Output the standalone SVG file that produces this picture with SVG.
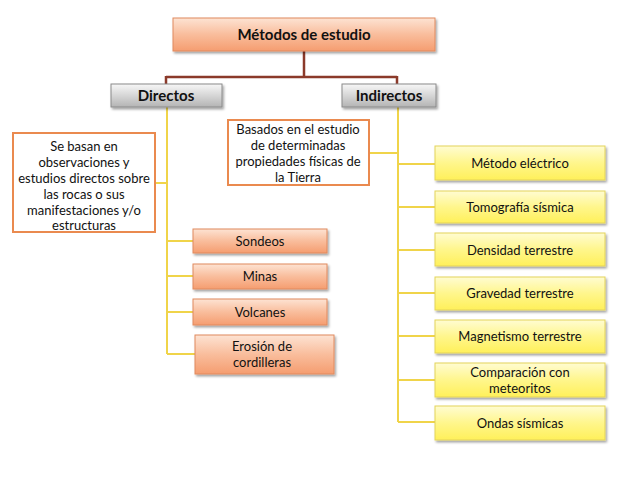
<svg xmlns="http://www.w3.org/2000/svg" width="638" height="479" viewBox="0 0 638 479">
<defs>
<linearGradient id="go" x1="0" y1="0" x2="0" y2="1"><stop offset="0" stop-color="#fde3d3"/><stop offset="0.5" stop-color="#f9bd9c"/><stop offset="1" stop-color="#f59d70"/></linearGradient>
<linearGradient id="gy" x1="0" y1="0" x2="0" y2="1"><stop offset="0" stop-color="#fffcd2"/><stop offset="0.5" stop-color="#fff68c"/><stop offset="1" stop-color="#fff05a"/></linearGradient>
<linearGradient id="gg" x1="0" y1="0" x2="0" y2="1"><stop offset="0" stop-color="#f7f7f7"/><stop offset="0.5" stop-color="#d6d6d6"/><stop offset="1" stop-color="#b4b4b4"/></linearGradient>
<filter id="sh" x="-10%" y="-20%" width="130%" height="160%"><feDropShadow dx="1.5" dy="2" stdDeviation="1.2" flood-color="#000" flood-opacity="0.35"/></filter>
</defs>
<style>
text{font-family:Lato,"Open Sans","Liberation Sans",sans-serif;font-size:13px;fill:#111;text-anchor:middle}
.b{font-weight:bold;font-size:15px}
.o{fill:url(#go);stroke:#e08a5e;stroke-width:1;filter:url(#sh)}
.y{fill:url(#gy);stroke:#e3d35a;stroke-width:1;filter:url(#sh)}
.g{fill:url(#gg);stroke:#8a8a8a;stroke-width:1;filter:url(#sh)}
.w{fill:#fff;stroke:#ea8a4f;stroke-width:2}
.cr{stroke:#8b3a2a;stroke-width:2.5;fill:none}
.cy{stroke:#f0d44a;stroke-width:2;fill:none}
</style>
<rect width="638" height="479" fill="#fff"/>
<g id="connectors">
<path class="cr" d="M304 50V77M166 77H397M166 76V84M397 76V84"/>
<path class="cy" d="M167 107V354M155 183H167M167 241H193M167 276H193M167 312H193M167 354H195"/>
<path class="cy" d="M398 107V422M369 153H398M398 164H435M398 207H435M398 250H435M398 293H435M398 336H435M398 380H435M398 422H435"/>
</g>
<g id="n-metodos"><rect class="o" x="173" y="18" width="262" height="33"/><text class="b" x="304" y="40">Métodos de estudio</text></g>
<g id="n-directos"><rect class="g" x="111" y="84" width="111" height="23"/><text class="b" x="166" y="101">Directos</text></g>
<g id="n-indirectos"><rect class="g" x="342" y="84" width="94" height="23"/><text class="b" x="389" y="101">Indirectos</text></g>
<g id="n-sebasan"><rect class="w" x="13" y="133" width="142" height="99"/>
<text x="84" y="151">Se basan en</text><text x="84" y="167">observaciones y</text><text x="84" y="183">estudios directos sobre</text><text x="84" y="199">las rocas o sus</text><text x="84" y="215">manifestaciones y/o</text><text x="84" y="230">estructuras</text></g>
<g id="n-basados"><rect class="w" x="228" y="120" width="141" height="65"/>
<text x="298" y="134">Basados en el estudio</text><text x="298" y="150">de determinadas</text><text x="298" y="166">propiedades físicas de</text><text x="298" y="182">la Tierra</text></g>
<g id="n-sondeos"><rect class="o" x="193" y="229" width="134" height="24"/><text x="260" y="246">Sondeos</text></g>
<g id="n-minas"><rect class="o" x="193" y="264" width="134" height="25"/><text x="260" y="281">Minas</text></g>
<g id="n-volcanes"><rect class="o" x="193" y="299" width="134" height="26"/><text x="260" y="317">Volcanes</text></g>
<g id="n-erosion"><rect class="o" x="195" y="335" width="139" height="39"/><text x="262" y="351">Erosión de</text><text x="262" y="367">cordilleras</text></g>
<g id="n-electrico"><rect class="y" x="435" y="146" width="170" height="34"/><text x="520" y="168">Método eléctrico</text></g>
<g id="n-tomografia"><rect class="y" x="435" y="191" width="170" height="32"/><text x="520" y="212">Tomografía sísmica</text></g>
<g id="n-densidad"><rect class="y" x="435" y="233" width="170" height="33"/><text x="520" y="255">Densidad terrestre</text></g>
<g id="n-gravedad"><rect class="y" x="435" y="277" width="170" height="33"/><text x="520" y="298">Gravedad terrestre</text></g>
<g id="n-magnetismo"><rect class="y" x="435" y="320" width="170" height="33"/><text x="520" y="341">Magnetismo terrestre</text></g>
<g id="n-comparacion"><rect class="y" x="435" y="363" width="170" height="34"/><text x="520" y="377">Comparación con</text><text x="520" y="393">meteoritos</text></g>
<g id="n-ondas"><rect class="y" x="435" y="406" width="170" height="34"/><text x="520" y="428">Ondas sísmicas</text></g>
</svg>
